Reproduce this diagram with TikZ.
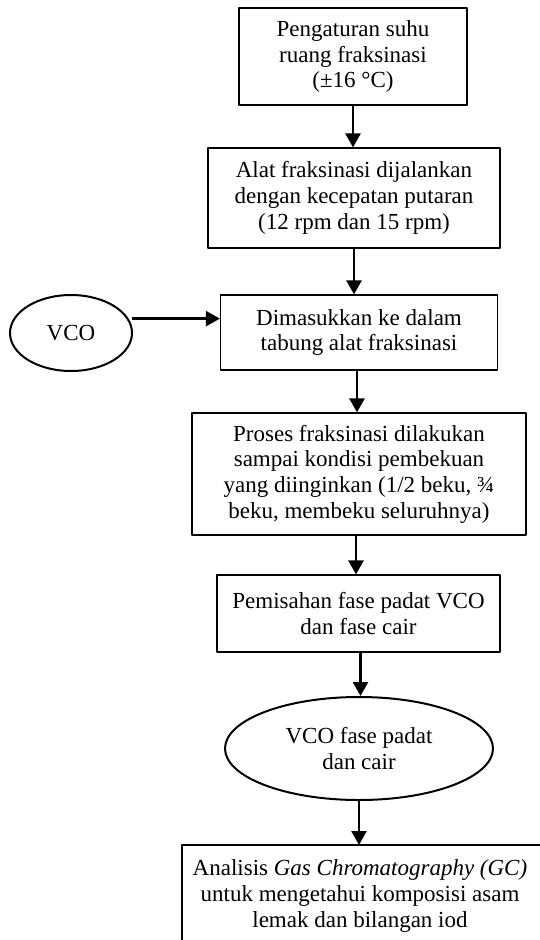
\documentclass[tikz,border=0pt]{standalone}
\usepackage{fontspec}
\setmainfont{Liberation Serif}
\usetikzlibrary{arrows.meta}
\usetikzlibrary{positioning}
\usetikzlibrary{shapes.geometric}

\begin{document}
\begin{tikzpicture}[x=1pt,y=-1pt,line join=round,
		font=\fontsize{23}{25.7}\selectfont,
		kotak/.style={draw,line width=1.2pt,align=center,inner sep=0pt},
		lonjong/.style={draw,ellipse,line width=2pt,align=center,inner sep=0pt},
		panah/.style={-{Triangle[length=14pt,width=15pt]},line width=2.5pt}]
	\useasboundingbox (0,0) rectangle (540,940);
	% langkah-langkah proses
	\node[kotak,minimum width=228pt,minimum height=97pt] (atur) at (353,56.5) {Pengaturan suhu\\ruang fraksinasi\\(±16 °C)};
	\node[kotak,minimum width=292pt,minimum height=100pt] (jalan) at (354,198) {Alat fraksinasi dijalankan\\dengan kecepatan putaran\\(12 rpm dan 15 rpm)};
	\node[kotak,minimum width=277pt,minimum height=75pt] (masuk) at (359,332.5) {Dimasukkan ke dalam\\tabung alat fraksinasi};
	\node[lonjong,minimum width=122pt,minimum height=76pt] (vco) at (71,333) {VCO};
	\node[kotak,minimum width=334pt,minimum height=122pt] (proses) at (359,474) {Proses fraksinasi dilakukan\\sampai kondisi pembekuan\\yang diinginkan (1/2 beku, ¾\\beku, membeku seluruhnya)};
	\node[kotak,minimum width=283pt,minimum height=77pt] (pisah) at (358.5,613.5) {Pemisahan fase padat VCO\\dan fase cair};
	\node[lonjong,minimum width=268pt,minimum height=103pt] (fase) at (359,748.5) {VCO fase padat\\dan cair};
	\node[align=center,inner sep=0pt] (analisis) at (360,896) {Analisis \textit{Gas Chromatography (GC)}\\untuk mengetahui komposisi asam\\lemak dan bilangan iod};
	% kotak terakhir terpotong
	\coordinate (kiri) at (182,940);
	\coordinate (kanan) at (540,845);
	\draw[line width=1.2pt] (kiri) |- (kanan);
	% panah
	\draw[panah] (atur.south) -- (atur.south |- jalan.north);
	\draw[panah] (jalan.south) -- (jalan.south |- masuk.north);
	\draw[panah] ([shift={(3pt,0)}]vco.14) -- (vco.14 -| masuk.west);
	\draw[panah] ([xshift=-2pt]masuk.south) -- ([xshift=-2pt]masuk.south |- proses.north);
	\draw[panah] ([xshift=-3pt]proses.south) -- ([xshift=-3pt]proses.south |- pisah.north);
	\draw[panah] ([xshift=2pt]pisah.south) -- ([xshift=2pt]pisah.south |- fase.north);
	\draw[panah] (fase.south) -- (fase.south |- kanan);
\end{tikzpicture}
\end{document}
